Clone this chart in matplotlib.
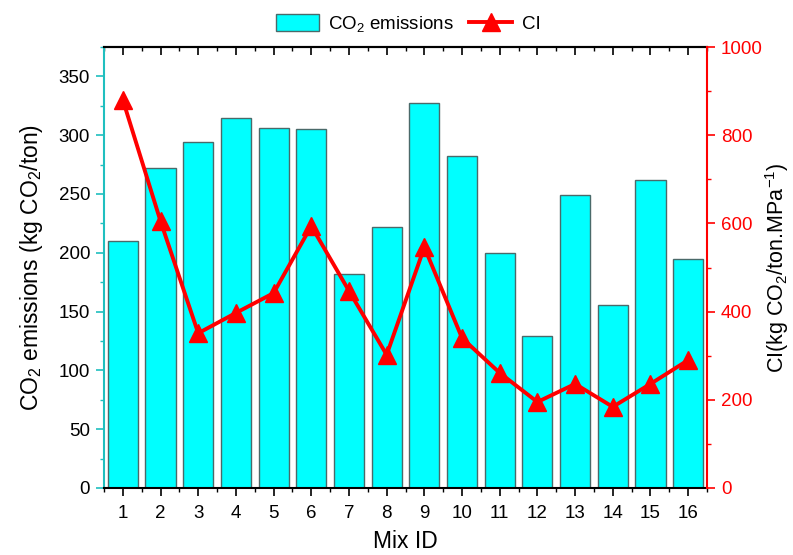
import matplotlib
matplotlib.use("Agg")
import matplotlib.pyplot as plt
from matplotlib.ticker import MultipleLocator

plt.rcParams['font.family'] = ['Liberation Sans', 'DejaVu Sans']
plt.rcParams['mathtext.fontset'] = 'custom'
plt.rcParams['mathtext.rm'] = 'Liberation Sans'
plt.rcParams['mathtext.it'] = 'Liberation Sans'

mix_ids = list(range(1, 17))
co2_emissions = [210, 272, 294, 315, 306, 305, 182, 222, 327, 282, 200, 129, 249, 156, 262, 195]
ci_values = [880, 605, 351, 397, 442, 594, 447, 302, 546, 340, 261, 195, 236, 184, 236, 290]

teal = '#1fbfbf'
tick_fs = 13.5
label_fs = 16.5

fig = plt.figure(figsize=(7.93, 5.55), dpi=100)
ax = fig.add_axes([104/793, 1-488/555, (707-104)/793, (488-47)/555])
ax2 = ax.twinx()

bars = ax.bar(mix_ids, co2_emissions, width=0.8, color='#00ffff',
              edgecolor='#4a6a6a', linewidth=1.0, label='CO$_2$ emissions', zorder=2)
line, = ax2.plot(mix_ids, ci_values, color='red', lw=2.8, marker='^', ms=13,
                 label='CI', zorder=3)

ax.set_xlim(0.5, 16.5)
ax.set_ylim(0, 375)
ax2.set_ylim(0, 1000)

ax.set_xticks(mix_ids)
ax.xaxis.set_minor_locator(MultipleLocator(0.5))
ax.yaxis.set_major_locator(MultipleLocator(50))
ax.yaxis.set_minor_locator(MultipleLocator(25))
ax2.yaxis.set_major_locator(MultipleLocator(200))
ax2.yaxis.set_minor_locator(MultipleLocator(100))

ax.tick_params(axis='x', which='major', direction='out', length=6, width=1.2,
               labelsize=tick_fs, pad=6)
ax.tick_params(axis='x', which='minor', direction='out', length=3, width=1.0)
ax.tick_params(axis='y', which='major', direction='out', length=6, width=1.2,
               color=teal, labelsize=tick_fs, labelcolor='black', pad=4)
ax.tick_params(axis='y', which='minor', direction='out', length=3, width=1.0, color=teal)
ax2.tick_params(axis='y', which='major', direction='out', length=6, width=1.2,
                color='red', labelsize=tick_fs, labelcolor='red', pad=4)
ax2.tick_params(axis='y', which='minor', direction='out', length=3, width=1.0, color='red')

# top axis ticks point inward
ax_top = ax.secondary_xaxis('top')
ax_top.set_xticks(mix_ids)
ax_top.xaxis.set_minor_locator(MultipleLocator(0.5))
ax_top.tick_params(which='major', direction='in', length=6, width=1.2, labeltop=False)
ax_top.tick_params(which='minor', direction='in', length=3, width=1.0)
ax_top.spines['top'].set_linewidth(1.5)

for s in ax.spines.values():
    s.set_linewidth(1.5)
ax.spines['left'].set_color(teal)
ax.spines['right'].set_visible(False)
ax2.spines['left'].set_visible(False)
ax2.spines['top'].set_visible(False)
ax2.spines['bottom'].set_visible(False)
ax2.spines['right'].set_color('red')
ax2.spines['right'].set_linewidth(1.5)

ax.set_xlabel('Mix ID', fontsize=label_fs, labelpad=6)
ax.set_ylabel('CO$_2$ emissions (kg CO$_2$/ton)', fontsize=label_fs, labelpad=10)
fig.text(777/793, 1-268/555, 'CI(kg CO$_2$/ton.MPa$^{-1}$)', fontsize=15.5,
         rotation=90, ha='center', va='center')

fig.legend([bars, line], ['CO$_2$ emissions', 'CI'], loc='center',
           bbox_to_anchor=(408/793, 1-24/555), ncol=2, frameon=False,
           fontsize=tick_fs, handlelength=2.3, handleheight=1.0, columnspacing=0.8,
           handletextpad=0.5)

fig.savefig('out.png', dpi=100)
